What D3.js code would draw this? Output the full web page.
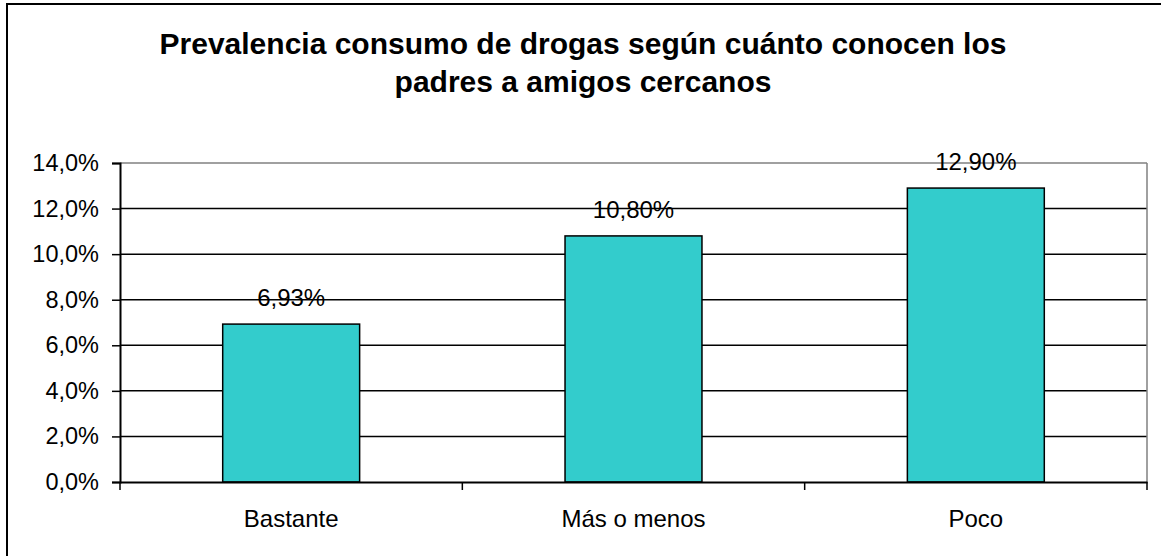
<!DOCTYPE html>
<html><head><meta charset="utf-8">
<script src="https://cdn.jsdelivr.net/npm/d3@7"></script>
<style>body{margin:0;background:#fff}svg{display:block}</style>
</head><body>
<svg id="c" width="1161" height="556"></svg>
<script>
const categories = ["Bastante", "Más o menos", "Poco"];
const values = [6.93, 10.80, 12.90];
const valueLabels = ["6,93%", "10,80%", "12,90%"];
const yTicks = [0, 2, 4, 6, 8, 10, 12, 14];
const titleLines = ["Prevalencia consumo de drogas según cuánto conocen los", "padres a amigos cercanos"];

const svg = d3.select("#c");
const font = "'Liberation Sans', Arial, sans-serif";
const m = {left: 120, right: 1147, top: 163, bottom: 482};

svg.append("rect").attr("x", 7).attr("y", 4).attr("width", 1170).attr("height", 570)
  .attr("fill", "#fff").attr("stroke", "#000").attr("stroke-width", 2);

const x = d3.scaleBand().domain(categories).range([m.left, m.right]).paddingInner(0).paddingOuter(0);
const y = d3.scaleLinear().domain([0, 14]).range([m.bottom, m.top]);

// gridlines
svg.append("g").selectAll("line").data(yTicks.slice(1)).join("line")
  .attr("x1", m.left).attr("x2", m.right)
  .attr("y1", d => y(d)).attr("y2", d => y(d))
  .attr("stroke", d => d === 14 ? "#808080" : "#000").attr("stroke-width", 1.5);
// right border
svg.append("line").attr("x1", m.right).attr("x2", m.right).attr("y1", m.top).attr("y2", m.bottom)
  .attr("stroke", "#808080").attr("stroke-width", 1.5);

// bars
const bw = x.bandwidth() * 0.4;
svg.append("g").selectAll("rect").data(values).join("rect")
  .attr("x", (d, i) => x(categories[i]) + (x.bandwidth() - bw) / 2)
  .attr("width", bw)
  .attr("y", d => y(d)).attr("height", d => m.bottom - y(d))
  .attr("fill", "#33CCCC").attr("stroke", "#000").attr("stroke-width", 1.5);

// value labels
svg.append("g").selectAll("text").data(values).join("text")
  .attr("x", (d, i) => x(categories[i]) + x.bandwidth() / 2)
  .attr("y", d => y(d) - 18)
  .attr("text-anchor", "middle").attr("font-family", font).attr("font-size", 24)
  .text((d, i) => valueLabels[i]);

// y axis
const yAxis = d3.axisLeft(y).tickValues(yTicks).tickSize(8).tickPadding(13)
  .tickFormat(d => d3.format(".1f")(d).replace(".", ",") + "%");
const gy = svg.append("g").attr("transform", `translate(${m.left},0)`).call(yAxis);
gy.select(".domain").attr("stroke", "#000").attr("stroke-width", 2);
gy.selectAll(".tick line").attr("stroke", "#000").attr("stroke-width", 1.5);
gy.selectAll("text").attr("font-family", font).attr("font-size", 23.5).attr("fill", "#000");

// x axis
const xAxis = d3.axisBottom(x).tickSize(0);
const gx = svg.append("g").attr("transform", `translate(0,${m.bottom})`).call(xAxis);
gx.select(".domain").attr("stroke", "#000").attr("stroke-width", 2);
gx.selectAll("text").attr("font-family", font).attr("font-size", 24).attr("fill", "#000")
  .attr("y", 44.5).attr("dy", 0);
// boundary ticks
const bounds = categories.map(c => x(c)).concat([m.right]);
svg.append("g").selectAll("line").data(bounds).join("line")
  .attr("x1", d => d).attr("x2", d => d).attr("y1", m.bottom).attr("y2", m.bottom + 8)
  .attr("stroke", "#000").attr("stroke-width", 1.5);

// title
svg.append("g").selectAll("text").data(titleLines).join("text")
  .attr("x", 583).attr("y", (d, i) => 54.3 + i * 37.4)
  .attr("text-anchor", "middle").attr("font-family", font).attr("font-weight", "bold").attr("font-size", 30)
  .text(d => d);
</script>
</body></html>
